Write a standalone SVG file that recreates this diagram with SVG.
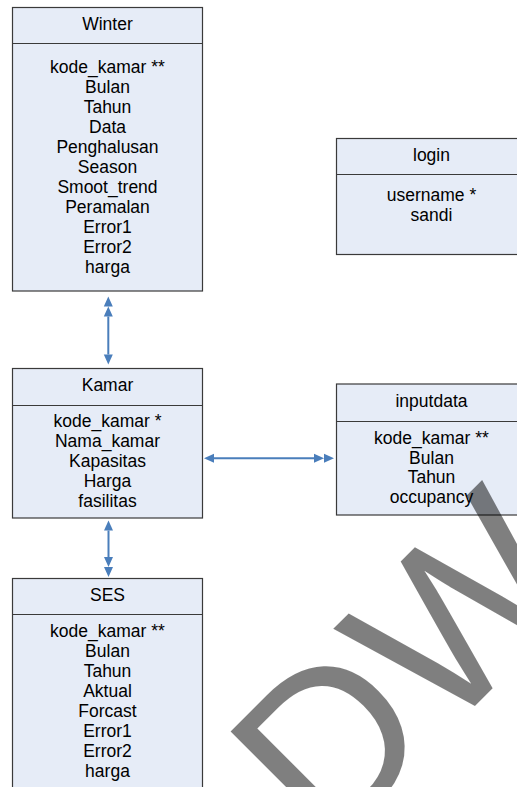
<svg xmlns="http://www.w3.org/2000/svg" width="517" height="787" viewBox="0 0 517 787">
  <style>
    .box { fill: #e6ecf7; stroke: #3a3a3a; stroke-width: 1.2; }
    .sep { stroke: #3a3a3a; stroke-width: 1.2; }
    text { font-family: "Liberation Sans", Arial, sans-serif; font-size: 17.5px; fill: #000; text-anchor: middle; }
    .link { stroke: #4a7ebb; stroke-width: 2; fill: none; }
    .mark { font-size: 225px; fill: #000; fill-opacity: 0.5; text-anchor: start; }
  </style>
  <defs>
    <marker id="head" markerUnits="userSpaceOnUse" markerWidth="11" markerHeight="10" refX="0" refY="4.5" orient="auto-start-reverse" overflow="visible">
      <path d="M0,0 L10,4.5 L0,9 z" fill="#4a7ebb"/>
    </marker>
    <marker id="head2" markerUnits="userSpaceOnUse" markerWidth="21" markerHeight="10" refX="0" refY="4.5" orient="auto-start-reverse" overflow="visible">
      <path d="M0,0 L10,4.5 L0,9 z M10,0 L20,4.5 L10,9 z" fill="#4a7ebb"/>
    </marker>
  </defs>

  <g id="winter">
    <rect class="box" x="12.5" y="7.5" width="190" height="283.5"/>
    <line class="sep" x1="12.5" y1="43.5" x2="202.5" y2="43.5"/>
    <text x="107.5" y="30">Winter</text>
    <text x="107.5" y="72.5">kode_kamar **</text>
    <text x="107.5" y="92.5">Bulan</text>
    <text x="107.5" y="112.5">Tahun</text>
    <text x="107.5" y="132.5">Data</text>
    <text x="107.5" y="152.5">Penghalusan</text>
    <text x="107.5" y="172.5">Season</text>
    <text x="107.5" y="192.5">Smoot_trend</text>
    <text x="107.5" y="212.5">Peramalan</text>
    <text x="107.5" y="232.5">Error1</text>
    <text x="107.5" y="252.5">Error2</text>
    <text x="107.5" y="272.5">harga</text>
  </g>

  <g id="login">
    <rect class="box" x="336.5" y="138.5" width="190" height="116"/>
    <line class="sep" x1="336.5" y1="174.5" x2="526.5" y2="174.5"/>
    <text x="431.5" y="160.7">login</text>
    <text x="431.5" y="201">username *</text>
    <text x="431.5" y="221">sandi</text>
  </g>

  <g id="kamar">
    <rect class="box" x="12.5" y="368.5" width="190" height="149.5"/>
    <line class="sep" x1="12.5" y1="405.5" x2="202.5" y2="405.5"/>
    <text x="107.5" y="391.3">Kamar</text>
    <text x="107.5" y="427">kode_kamar *</text>
    <text x="107.5" y="447">Nama_kamar</text>
    <text x="107.5" y="467">Kapasitas</text>
    <text x="107.5" y="487">Harga</text>
    <text x="107.5" y="507">fasilitas</text>
  </g>

  <g id="inputdata">
    <rect class="box" x="336.5" y="384" width="190" height="131"/>
    <line class="sep" x1="336.5" y1="421.5" x2="526.5" y2="421.5"/>
    <text x="431.5" y="407.3">inputdata</text>
    <text x="431.5" y="444">kode_kamar **</text>
    <text x="431.5" y="463.5">Bulan</text>
    <text x="431.5" y="483">Tahun</text>
    <text x="431.5" y="502.5">occupancy</text>
  </g>

  <g id="ses">
    <rect class="box" x="12.5" y="578.5" width="190" height="230"/>
    <line class="sep" x1="12.5" y1="614.5" x2="202.5" y2="614.5"/>
    <text x="107.5" y="600.7">SES</text>
    <text x="107.5" y="636.7">kode_kamar **</text>
    <text x="107.5" y="656.7">Bulan</text>
    <text x="107.5" y="676.7">Tahun</text>
    <text x="107.5" y="696.7">Aktual</text>
    <text x="107.5" y="716.7">Forcast</text>
    <text x="107.5" y="736.7">Error1</text>
    <text x="107.5" y="756.7">Error2</text>
    <text x="107.5" y="776.7">harga</text>
  </g>

  <g id="connectors">
    <!-- Winter to Kamar -->
    <line class="link" x1="108.3" y1="316.5" x2="108.3" y2="354.5" marker-start="url(#head2)" marker-end="url(#head)"/>
    <!-- Kamar to SES -->
    <line class="link" x1="108.5" y1="530.5" x2="108.5" y2="557" marker-start="url(#head)" marker-end="url(#head2)"/>
    <!-- Kamar to inputdata -->
    <line class="link" x1="214" y1="458.3" x2="314" y2="458.3" marker-start="url(#head)" marker-end="url(#head2)"/>
  </g>

  <text class="mark" transform="translate(327 854) rotate(-45)">DW</text>
</svg>
